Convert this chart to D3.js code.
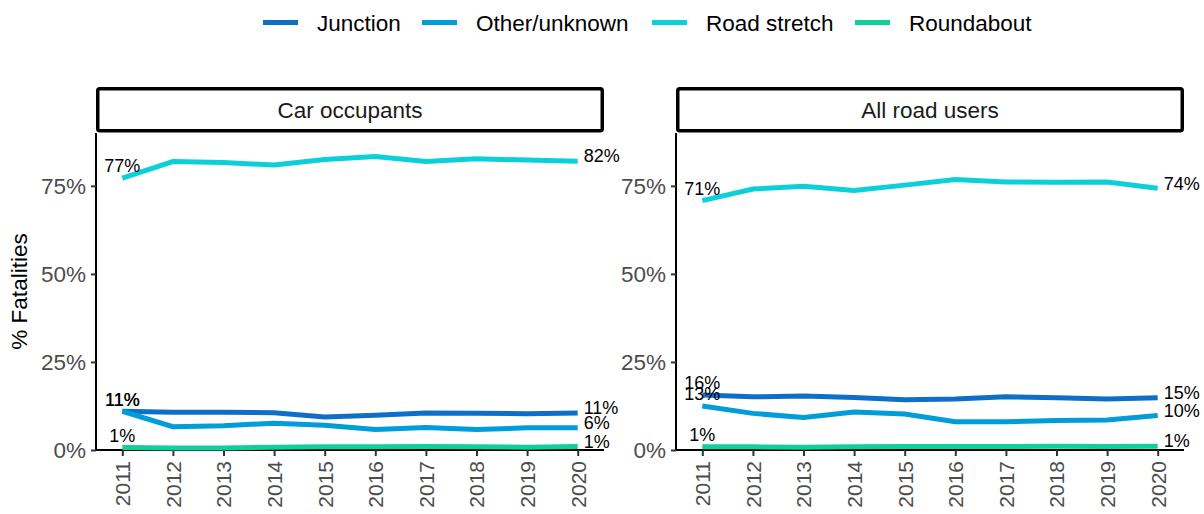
<!DOCTYPE html>
<html>
<head>
<meta charset="utf-8">
<script src="https://cdn.jsdelivr.net/npm/d3@7"></script>
<style>
  body { margin: 0; background: #fff; }
  text { font-family: "Liberation Sans", Arial, sans-serif; }
</style>
</head>
<body>
<div id="chart"></div>
<script>
/* données */
const years = [2011, 2012, 2013, 2014, 2015, 2016, 2017, 2018, 2019, 2020];
const categories = ['Junction', 'Other/unknown', 'Road stretch', 'Roundabout'];
const colors = ['#0F6FC6', '#009DD9', '#0BD0D9', '#10CF9B'];
const panels = ['Car occupants', 'All road users'];

// Car occupants
const carJunction = [11.0, 10.7, 10.7, 10.6, 9.4, 9.9, 10.5, 10.4, 10.3, 10.5];
const carOther = [11.0, 6.6, 6.9, 7.6, 7.0, 5.8, 6.4, 5.8, 6.3, 6.3];
const carRoad = [77.2, 81.9, 81.6, 80.9, 82.5, 83.3, 81.9, 82.7, 82.3, 82.0];
const carRoundabout = [0.7, 0.6, 0.6, 0.8, 0.9, 0.9, 1.0, 0.9, 0.8, 1.0];

// All road users
const allJunction = [15.6, 15.1, 15.3, 14.9, 14.3, 14.5, 15.1, 14.8, 14.5, 14.8];
const allOther = [12.5, 10.4, 9.2, 10.8, 10.2, 8.0, 8.0, 8.4, 8.5, 9.8];
const allRoad = [70.8, 74.1, 74.9, 73.7, 75.2, 76.8, 76.1, 76.0, 76.1, 74.3];
const allRoundabout = [0.9, 0.9, 0.8, 0.9, 1.0, 1.0, 1.0, 1.1, 1.0, 1.1];

const yTicks = [0, 25, 50, 75];

const seriesByPanel = [
  [carJunction, carOther, carRoad, carRoundabout],
  [allJunction, allOther, allRoad, allRoundabout]
];

/*** GRAPH ***/
let width = 1204,
    height = 514;

let svg = d3.select('#chart').append('svg')
  .attr('width', width)
  .attr('height', height);

let panelX = [[96, 604], [676, 1184]];
let plotTop = 133, plotBottom = 450;
let fontBig = '22.5px';

/* légende */
let legendPos = [263, 422, 652, 855];
let legend = svg.append('g');
categories.forEach((c, i) => {
  legend.append('line')
    .attr('x1', legendPos[i]).attr('x2', legendPos[i] + 35)
    .attr('y1', 22.5).attr('y2', 22.5)
    .attr('stroke', colors[i]).attr('stroke-width', 5);
  legend.append('text')
    .attr('x', legendPos[i] + 54).attr('y', 23)
    .attr('dy', '0.35em')
    .style('font-size', fontBig).style('fill', '#000')
    .text(c);
});

/* titre axe ordonnées */
svg.append('text')
  .attr('transform', 'translate(19,' + ((plotTop + plotBottom) / 2) + ') rotate(-90)')
  .attr('text-anchor', 'middle')
  .attr('dy', '0.35em')
  .style('font-size', fontBig)
  .text('% Fatalities');

let y = d3.scaleLinear().domain([0, 90]).range([plotBottom, plotTop]);

panels.forEach((title, p) => {
  let [x0, x1] = panelX[p];
  let x = d3.scalePoint().domain(years).range([x0, x1]).padding(0.52);
  let g = svg.append('g');

  /* bandeau */
  g.append('rect')
    .attr('x', x0 + 1.75).attr('y', 88.75)
    .attr('width', x1 - x0 - 3.5).attr('height', 42)
    .attr('rx', 2)
    .attr('fill', '#fff').attr('stroke', '#000').attr('stroke-width', 3.5);
  g.append('text')
    .attr('x', (x0 + x1) / 2).attr('y', 110)
    .attr('dy', '0.35em')
    .attr('text-anchor', 'middle')
    .style('font-size', fontBig).style('fill', '#1a1a1a')
    .text(title);

  /* axes */
  let yAxis = d3.axisLeft(y).tickValues(yTicks).tickFormat(d => d + '%').tickSize(5).tickPadding(5);
  let yg = g.append('g').attr('transform', 'translate(' + x0 + ',0)').call(yAxis);
  yg.select('.domain').attr('d', 'M0,' + plotTop + 'V' + plotBottom).attr('stroke', '#000').attr('stroke-width', 2);
  yg.selectAll('.tick line').attr('stroke', '#333').attr('stroke-width', 2);
  yg.selectAll('.tick text').style('font-size', fontBig).style('fill', '#4d4d4d')
    .style('font-family', '"Liberation Sans", Arial, sans-serif');

  let xAxis = d3.axisBottom(x).tickSize(6).tickPadding(4);
  let xg = g.append('g').attr('transform', 'translate(0,' + plotBottom + ')').call(xAxis);
  xg.select('.domain').attr('d', 'M' + x0 + ',0H' + x1).attr('stroke', '#000').attr('stroke-width', 2);
  xg.selectAll('.tick line').attr('stroke', '#333').attr('stroke-width', 2);
  xg.selectAll('.tick text')
    .style('font-size', '21px').style('fill', '#4d4d4d')
    .style('font-family', '"Liberation Sans", Arial, sans-serif')
    .attr('text-anchor', 'end')
    .attr('transform', 'rotate(-90)')
    .attr('x', -11).attr('y', 0).attr('dy', '0.35em');

  /* lignes */
  let line = d3.line().x((d, i) => x(years[i])).y(d => y(d));
  seriesByPanel[p].forEach((vals, s) => {
    g.append('path')
      .datum(vals)
      .attr('d', line)
      .attr('fill', 'none')
      .attr('stroke', colors[s])
      .attr('stroke-width', 5);
  });

  /* étiquettes début et fin */
  seriesByPanel[p].forEach((vals, s) => {
    let first = vals[0], last = vals[vals.length - 1];
    g.append('text')
      .attr('x', x(years[0])).attr('y', y(first) - 12)
      .attr('dy', '0.35em')
      .attr('text-anchor', 'middle')
      .style('font-size', '18px').style('fill', '#000')
      .text(Math.round(first) + '%');
    g.append('text')
      .attr('x', x(years[years.length - 1]) + 6).attr('y', y(last) - 5)
      .attr('dy', '0.35em')
      .style('font-size', '18px').style('fill', '#000')
      .text(Math.round(last) + '%');
  });
});
</script>
</body>
</html>
